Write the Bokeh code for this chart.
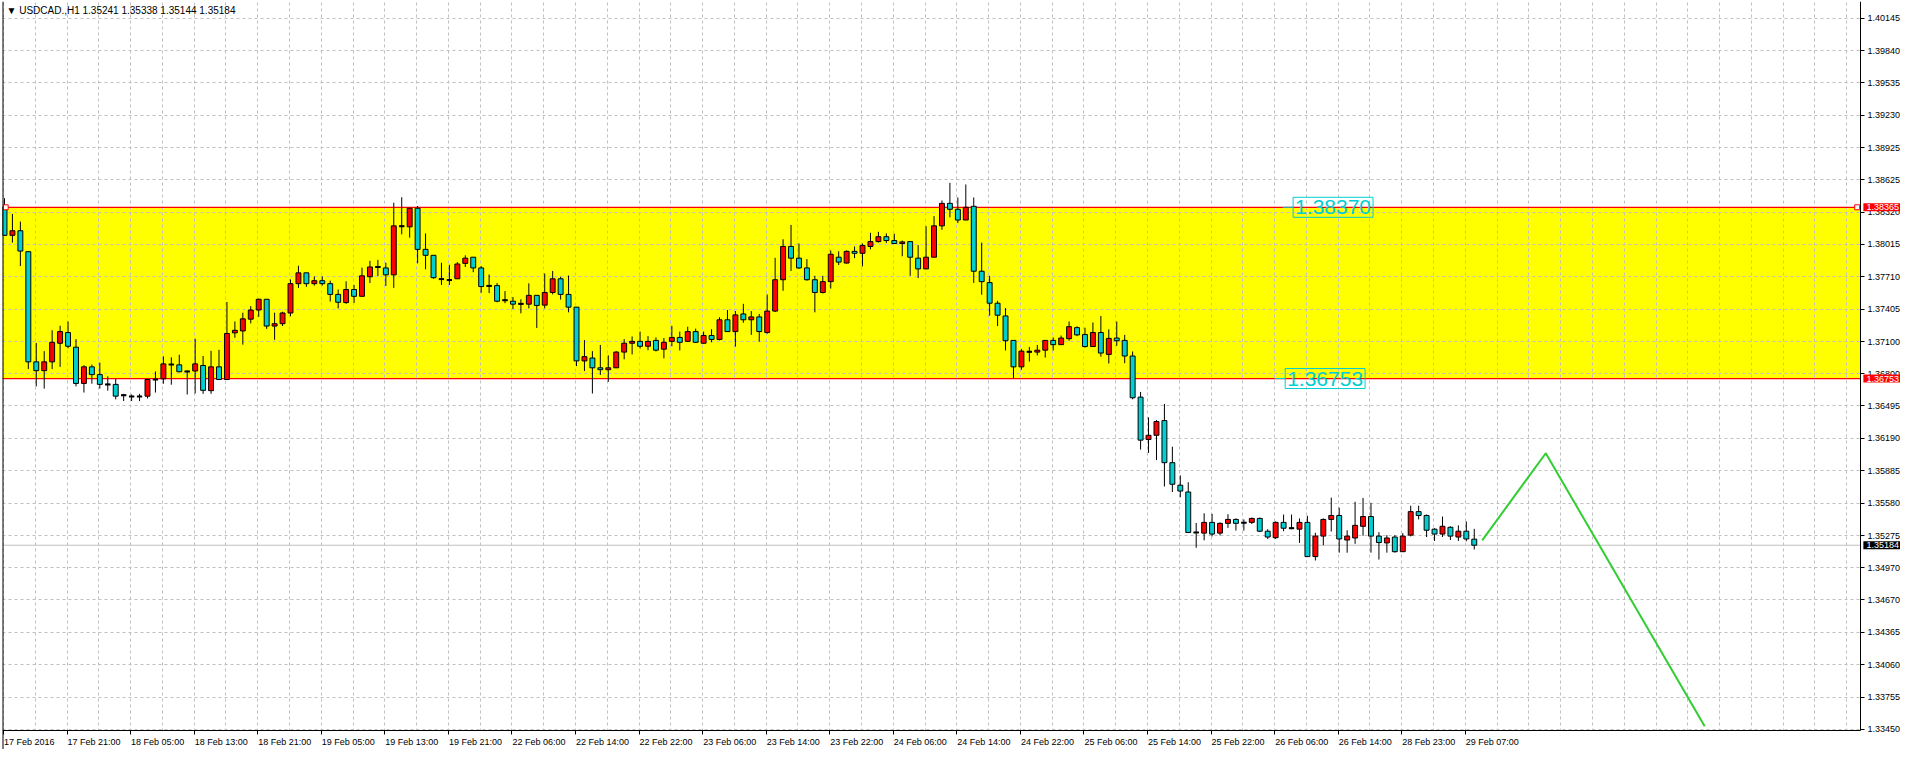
import numpy as np
from bokeh.plotting import figure
from bokeh.models import Range1d, FixedTicker, Label, ColumnDataSource, PrintfTickFormatter, LinearAxis, Span
from bokeh.embed import file_html
from bokeh.resources import INLINE

symbol = "USDCAD.,H1"

opens = [1.38365, 1.38101, 1.38144, 1.37947, 1.36910, 1.36827, 1.36910, 1.37085, 1.37186, 1.37048,
         1.36707, 1.36863, 1.36790, 1.36698, 1.36698, 1.36596, 1.36584, 1.36584, 1.36587, 1.36744,
         1.36750, 1.36885, 1.36882, 1.36820, 1.36824, 1.36876, 1.36639, 1.36863, 1.36744, 1.37183,
         1.37201, 1.37312, 1.37398, 1.37499, 1.37247, 1.37269, 1.37370, 1.37646, 1.37748, 1.37646,
         1.37674, 1.37646, 1.37545, 1.37468, 1.37591, 1.37527, 1.37711, 1.37803, 1.37794, 1.37729,
         1.38187, 1.38181, 1.38356, 1.37969, 1.37913, 1.37689, 1.37680, 1.37692, 1.37837, 1.37895,
         1.37794, 1.37625, 1.37628, 1.37490, 1.37481, 1.37456, 1.37453, 1.37536, 1.37444, 1.37563,
         1.37692, 1.37545, 1.37425, 1.36919, 1.36946, 1.36854, 1.36836, 1.36854, 1.37002, 1.37085,
         1.37103, 1.37057, 1.37112, 1.37029, 1.37103, 1.37140, 1.37103, 1.37195, 1.37085, 1.37158,
         1.37121, 1.37306, 1.37195, 1.37361, 1.37306, 1.37333, 1.37186, 1.37388, 1.37683, 1.37996,
         1.37886, 1.37794, 1.37683, 1.37563, 1.37665, 1.37895, 1.37840, 1.37950, 1.37932, 1.37996,
         1.38042, 1.38088, 1.38052, 1.38024, 1.38042, 1.37886, 1.37785, 1.37895, 1.38190, 1.38402,
         1.38346, 1.38245, 1.38374, 1.37763, 1.37656, 1.37462, 1.37342, 1.37112, 1.36863, 1.37005,
         1.37002, 1.37020, 1.37112, 1.37072, 1.37128, 1.37232, 1.37167, 1.37054, 1.37186, 1.36980,
         1.37134, 1.37112, 1.36965, 1.36578, 1.36179, 1.36219, 1.36357, 1.35961, 1.35749, 1.35685,
         1.35304, 1.35298, 1.35399, 1.35298, 1.35390, 1.35427, 1.35396, 1.35399, 1.35436, 1.35316,
         1.35255, 1.35399, 1.35344, 1.35335, 1.35399, 1.35077, 1.35270, 1.35427, 1.35464, 1.35233,
         1.35252, 1.35362, 1.35454, 1.35270, 1.35206, 1.35261, 1.35123, 1.35279, 1.35500, 1.35464,
         1.35335, 1.35289, 1.35353, 1.35261, 1.35316, 1.35241]

highs = [1.38451, 1.38303, 1.38230, 1.37950, 1.37088, 1.37011, 1.37207, 1.37250, 1.37290, 1.37124,
         1.36879, 1.36885, 1.36903, 1.36774, 1.36750, 1.36609, 1.36603, 1.36609, 1.36750, 1.36820,
         1.36962, 1.36953, 1.36977, 1.36827, 1.37128, 1.36965, 1.37014, 1.37023, 1.37474, 1.37290,
         1.37373, 1.37435, 1.37505, 1.37499, 1.37373, 1.37382, 1.37686, 1.37815, 1.37748, 1.37714,
         1.37714, 1.37674, 1.37591, 1.37668, 1.37634, 1.37797, 1.37861, 1.37870, 1.37843, 1.38408,
         1.38460, 1.38365, 1.38377, 1.38119, 1.37913, 1.37843, 1.37824, 1.37849, 1.37913, 1.37895,
         1.37812, 1.37732, 1.37652, 1.37576, 1.37520, 1.37499, 1.37649, 1.37536, 1.37742, 1.37766,
         1.37711, 1.37723, 1.37425, 1.37115, 1.37011, 1.37069, 1.36971, 1.37011, 1.37124, 1.37149,
         1.37195, 1.37152, 1.37140, 1.37134, 1.37250, 1.37195, 1.37241, 1.37223, 1.37195, 1.37217,
         1.37330, 1.37398, 1.37388, 1.37456, 1.37388, 1.37361, 1.37545, 1.37889, 1.38064, 1.38199,
         1.38024, 1.37877, 1.37720, 1.37720, 1.37959, 1.37950, 1.37959, 1.37996, 1.38024, 1.38125,
         1.38134, 1.38119, 1.38116, 1.38052, 1.38042, 1.38009, 1.38187, 1.38282, 1.38429, 1.38595,
         1.38457, 1.38580, 1.38457, 1.38033, 1.37720, 1.37484, 1.37416, 1.37112, 1.37032, 1.37051,
         1.37069, 1.37112, 1.37140, 1.37158, 1.37290, 1.37244, 1.37232, 1.37281, 1.37342, 1.37216,
         1.37290, 1.37164, 1.37008, 1.36627, 1.36388, 1.36363, 1.36514, 1.36111, 1.35841, 1.35777,
         1.35393, 1.35485, 1.35479, 1.35399, 1.35476, 1.35436, 1.35427, 1.35445, 1.35445, 1.35335,
         1.35408, 1.35473, 1.35473, 1.35436, 1.35461, 1.35301, 1.35436, 1.35632, 1.35537, 1.35325,
         1.35593, 1.35629, 1.35583, 1.35307, 1.35279, 1.35279, 1.35298, 1.35556, 1.35556, 1.35473,
         1.35344, 1.35454, 1.35362, 1.35371, 1.35408, 1.35338]

lows = [1.38095, 1.38033, 1.37812, 1.36842, 1.36679, 1.36658, 1.36842, 1.36863, 1.37038, 1.36679,
        1.36621, 1.36704, 1.36658, 1.36639, 1.36557, 1.36541, 1.36541, 1.36541, 1.36566, 1.36621,
        1.36704, 1.36695, 1.36811, 1.36603, 1.36612, 1.36609, 1.36609, 1.36741, 1.36741, 1.37137,
        1.37072, 1.37272, 1.37333, 1.37220, 1.37118, 1.37247, 1.37339, 1.37606, 1.37616, 1.37628,
        1.37628, 1.37478, 1.37413, 1.37456, 1.37465, 1.37527, 1.37652, 1.37717, 1.37625, 1.37606,
        1.38110, 1.38079, 1.37837, 1.37781, 1.37692, 1.37634, 1.37634, 1.37692, 1.37803, 1.37754,
        1.37560, 1.37557, 1.37471, 1.37462, 1.37407, 1.37367, 1.37413, 1.37229, 1.37413, 1.37545,
        1.37496, 1.37376, 1.36870, 1.36824, 1.36612, 1.36787, 1.36722, 1.36854, 1.36934, 1.36980,
        1.37035, 1.37020, 1.37008, 1.36943, 1.37057, 1.37017, 1.37100, 1.37088, 1.37082, 1.37094,
        1.37112, 1.37192, 1.37054, 1.37278, 1.37164, 1.37100, 1.37174, 1.37379, 1.37579, 1.37766,
        1.37785, 1.37674, 1.37376, 1.37554, 1.37600, 1.37821, 1.37837, 1.37886, 1.37809, 1.37969,
        1.38033, 1.38030, 1.38024, 1.37904, 1.37720, 1.37699, 1.37785, 1.37895, 1.38153, 1.38270,
        1.38217, 1.38245, 1.37653, 1.37542, 1.37345, 1.37247, 1.37017, 1.36753, 1.36836, 1.36913,
        1.36971, 1.36950, 1.37017, 1.37069, 1.37109, 1.37152, 1.37045, 1.37051, 1.36959, 1.36894,
        1.37060, 1.36897, 1.36557, 1.36084, 1.36053, 1.35985, 1.35737, 1.35685, 1.35636, 1.35298,
        1.35160, 1.35230, 1.35267, 1.35276, 1.35347, 1.35322, 1.35322, 1.35384, 1.35307, 1.35243,
        1.35243, 1.35316, 1.35335, 1.35206, 1.35077, 1.35040, 1.35184, 1.35313, 1.35114, 1.35114,
        1.35197, 1.35273, 1.35114, 1.35049, 1.35114, 1.35114, 1.35123, 1.35267, 1.35427, 1.35261,
        1.35224, 1.35261, 1.35233, 1.35224, 1.35221, 1.35144]

closes = [1.38101, 1.38144, 1.37953, 1.36910, 1.36827, 1.36910, 1.37094, 1.37195, 1.37057, 1.36707,
          1.36863, 1.36790, 1.36698, 1.36698, 1.36587, 1.36596, 1.36584, 1.36584, 1.36744, 1.36744,
          1.36891, 1.36885, 1.36817, 1.36820, 1.36891, 1.36642, 1.36863, 1.36744, 1.37177, 1.37207,
          1.37315, 1.37398, 1.37499, 1.37247, 1.37269, 1.37370, 1.37646, 1.37748, 1.37646, 1.37674,
          1.37646, 1.37545, 1.37471, 1.37591, 1.37527, 1.37720, 1.37803, 1.37803, 1.37729, 1.38190,
          1.38187, 1.38356, 1.37969, 1.37913, 1.37702, 1.37689, 1.37680, 1.37831, 1.37886, 1.37794,
          1.37619, 1.37625, 1.37481, 1.37490, 1.37453, 1.37456, 1.37536, 1.37441, 1.37563, 1.37692,
          1.37545, 1.37425, 1.36919, 1.36959, 1.36854, 1.36836, 1.36854, 1.37002, 1.37085, 1.37103,
          1.37057, 1.37103, 1.37020, 1.37094, 1.37140, 1.37094, 1.37195, 1.37094, 1.37158, 1.37121,
          1.37306, 1.37195, 1.37352, 1.37306, 1.37333, 1.37195, 1.37388, 1.37683, 1.37996, 1.37886,
          1.37794, 1.37683, 1.37563, 1.37665, 1.37923, 1.37849, 1.37950, 1.37932, 1.38006, 1.38042,
          1.38088, 1.38052, 1.38024, 1.38039, 1.37895, 1.37785, 1.37895, 1.38190, 1.38402, 1.38346,
          1.38245, 1.38365, 1.37763, 1.37665, 1.37462, 1.37349, 1.37109, 1.36863, 1.37011, 1.37005,
          1.37020, 1.37112, 1.37072, 1.37134, 1.37241, 1.37164, 1.37054, 1.37186, 1.36993, 1.37131,
          1.37109, 1.36965, 1.36572, 1.36173, 1.36219, 1.36348, 1.35961, 1.35758, 1.35694, 1.35304,
          1.35304, 1.35399, 1.35289, 1.35390, 1.35427, 1.35390, 1.35396, 1.35436, 1.35316, 1.35261,
          1.35399, 1.35344, 1.35344, 1.35399, 1.35077, 1.35270, 1.35427, 1.35464, 1.35243, 1.35270,
          1.35371, 1.35454, 1.35270, 1.35209, 1.35252, 1.35123, 1.35270, 1.35500, 1.35464, 1.35325,
          1.35289, 1.35362, 1.35270, 1.35316, 1.35243, 1.35184]

x_labels = ["17 Feb 2016", "17 Feb 21:00", "18 Feb 05:00", "18 Feb 13:00", "18 Feb 21:00",
            "19 Feb 05:00", "19 Feb 13:00", "19 Feb 21:00", "22 Feb 06:00", "22 Feb 14:00",
            "22 Feb 22:00", "23 Feb 06:00", "23 Feb 14:00", "23 Feb 22:00", "24 Feb 06:00",
            "24 Feb 14:00", "24 Feb 22:00", "25 Feb 06:00", "25 Feb 14:00", "25 Feb 22:00",
            "26 Feb 06:00", "26 Feb 14:00", "28 Feb 23:00", "29 Feb 07:00"]

price_ticks = [1.40145, 1.39840, 1.39535, 1.39230, 1.38925, 1.38625, 1.38320, 1.38015,
               1.37710, 1.37405, 1.37100, 1.36800, 1.36495, 1.36190, 1.35885, 1.35580,
               1.35275, 1.34970, 1.34670, 1.34365, 1.34060, 1.33755, 1.33450]

zone_top = 1.38365
zone_bottom = 1.36753
zone_top_text = "1.38370"
zone_bottom_text = "1.36753"

proj_bar = [186, 194, 214]
proj_price = [1.35230, 1.36050, 1.33480]

# ---------------------------------------------------------------
CYAN = "#00ced1"
RED = "#ff0000"
GRID = "#c0c0c0"
FONT = "Liberation Sans"
FS = 9  # px

n = len(opens)
idx = np.arange(n)
o = np.array(opens); c = np.array(closes)
colors = [RED if cc > oo else CYAN for oo, cc in zip(opens, closes)]
src = ColumnDataSource(dict(x=idx, h=highs, l=lows, top=np.maximum(o, c),
                            bottom=np.minimum(o, c), color=colors))
doji = o == c
dsrc = ColumnDataSource(dict(x0=idx[doji] - 0.33, x1=idx[doji] + 0.33, y=c[doji]))

W, H = 1900, 749
BL, BT = 2, 1                               # left / top border
X0, X_AX, X1 = -0.25, 233.6, 238.65         # frame left, price-axis line, frame right
Y_AXL, Y1 = 1.33440, 1.40302                # time-axis line, frame top
AX_BAND = 19                                # px for the time labels below the axis line
px_per_bar = (W - BL) / (X1 - X0)
px_per_price = (H - BT - AX_BAND) / (Y1 - Y_AXL)
Y0 = Y_AXL - AX_BAND / px_per_price

p = figure(width=W, height=H, x_range=Range1d(X0, X1), y_range=Range1d(Y0, Y1),
           y_axis_location="right", x_axis_location="below",
           output_backend="svg", toolbar_location=None,
           min_border_left=BL, min_border_top=BT, min_border_right=0, min_border_bottom=0)
p.background_fill_color = "white"
p.border_fill_color = "white"
p.outline_line_color = None

# ---- price axis drawn at the chart's right edge, label column inside the canvas
ya = p.yaxis[0]
ya.fixed_location = X_AX
ya.bounds = (Y_AXL, Y1)
ya.ticker = FixedTicker(ticks=price_ticks, minor_ticks=[])
ya.formatter = PrintfTickFormatter(format="%.5f")

# ---- time axis: line + tick marks
xa = p.xaxis[0]
xa.fixed_location = Y_AXL
tick_pos = [i - 0.125 for i in range(0, n, 8)]
xa.ticker = FixedTicker(ticks=tick_pos, minor_ticks=[])
xa.major_label_overrides = {t: "" for t in tick_pos}
xa.bounds = (X0, X_AX)

for ax in (xa, ya):
    ax.axis_line_color = "black"
    ax.axis_line_width = 1
    ax.major_tick_line_color = "black"
    ax.major_tick_out = 4
    ax.major_tick_in = 0
    ax.minor_tick_line_color = None
    ax.major_label_text_font = FONT
    ax.major_label_text_font_size = f"{FS}px"
    ax.major_label_text_color = "black"
    ax.major_label_standoff = 3
xa.major_label_text_font_size = "0px"
xa.major_label_standoff = 0

# ---- time labels begin at their tick (MT4 style)
CW = {" ": 0.278, ":": 0.278, "F": 0.611, "e": 0.556, "b": 0.556}
def text_w(s):
    return sum(CW.get(ch, 0.556) for ch in s) * FS
lab_pos = [t + (text_w(lab) / 2 + 0.5) / px_per_bar for t, lab in zip(tick_pos, x_labels)]
xl = LinearAxis(fixed_location=Y_AXL)
xl.ticker = FixedTicker(ticks=lab_pos, minor_ticks=[])
xl.major_label_overrides = {t: lab for t, lab in zip(lab_pos, x_labels)}
xl.axis_line_color = None
xl.major_tick_line_color = None
xl.minor_tick_line_color = None
xl.major_tick_out = 0
xl.major_tick_in = 0
xl.major_label_standoff = 6
xl.major_label_text_font = FONT
xl.major_label_text_font_size = f"{FS}px"
xl.major_label_text_color = "black"
p.add_layout(xl, "below")

p.xgrid.ticker = FixedTicker(ticks=[4 * k - 0.125 for k in range(0, 60)])
for g in (p.xgrid, p.ygrid):
    g.grid_line_color = GRID
    g.grid_line_dash = "3 3"
    g.grid_line_width = 1

# zone rectangle (background object)
p.quad(left=X0, right=X_AX, bottom=zone_bottom, top=zone_top,
       fill_color="#ffff00", line_color=None, level="image")
# blank scale areas (label column right of the price axis, label band below the time axis)
p.quad(left=[X_AX, X0 - 1], right=[X1 + 1, X1 + 1], bottom=[Y0 - 0.01, Y0 - 0.01],
       top=[Y1 + 0.01, Y_AXL], fill_color="white", line_color=None)

p.segment(x0=[X0, X0], x1=[X_AX, X_AX], y0=[zone_top, zone_bottom], y1=[zone_top, zone_bottom],
          line_color=RED, line_width=1.2)

# current price line
p.segment(x0=[X0], x1=[X_AX], y0=[closes[-1]], y1=[closes[-1]], line_color=GRID, line_width=1)

# candles
p.segment(x0="x", x1="x", y0="h", y1="l", source=src, line_color="black", line_width=1)
p.vbar(x="x", width=0.62, top="top", bottom="bottom", source=src,
       fill_color="color", line_color="black", line_width=1)
p.segment(x0="x0", x1="x1", y0="y", y1="y", source=dsrc, line_color="black", line_width=2)

# projection
p.line(proj_bar, proj_price, line_color="#32cd32", line_width=2)

# anchor markers of the rectangle
p.scatter([0.15, X_AX - 0.4], [zone_top, zone_top], marker="square", size=5,
          fill_color="white", line_color=RED, line_width=1)

# left chart border
p.add_layout(Span(location=X0, dimension="height", line_color="black", line_width=2))

# in-chart price labels
for yv, txt, xb in ((zone_top, zone_top_text, 162.2), (zone_bottom, zone_bottom_text, 161.2)):
    p.segment(x0=[xb - 1.3], x1=[xb], y0=[yv], y1=[yv], line_color=CYAN, line_width=1)
    p.add_layout(Label(x=xb, y=yv, text=txt, text_align="left", text_baseline="middle",
                       text_font="Liberation Sans Narrow, Liberation Sans", text_font_size="21px",
                       text_color=CYAN, border_line_color=CYAN, border_line_width=1,
                       background_fill_color=None, padding=(2, 3)))

# price boxes on the price scale
for yv, txt, bg in ((zone_top, f"{zone_top:.5f}", RED), (zone_bottom, f"{zone_bottom:.5f}", RED),
                    (closes[-1], f"{closes[-1]:.5f}", "black")):
    p.add_layout(Label(x=X_AX, y=yv, x_offset=3, text=txt, text_align="left", text_baseline="middle",
                       text_font=FONT, text_font_size=f"{FS}px", text_color="white",
                       background_fill_color=bg, padding=(3, 1)))

title = "\u25bc {}  {:.5f} {:.5f} {:.5f} {:.5f}".format(symbol, opens[-1], highs[-1], lows[-1], closes[-1])
p.add_layout(Label(x=X0, y=Y1, x_offset=4, y_offset=-3, text=title, text_align="left",
                   text_baseline="top", text_font=FONT, text_font_size="10px", text_color="black"))

open("out.html", "w").write(file_html(p, INLINE))
